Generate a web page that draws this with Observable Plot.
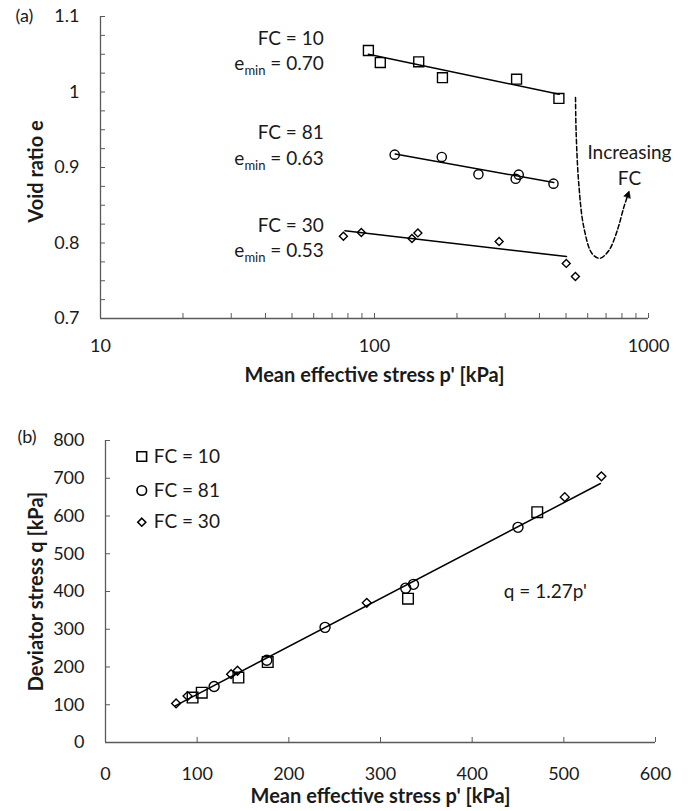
<!DOCTYPE html>
<html><head><meta charset="utf-8">
<script src="https://cdn.jsdelivr.net/npm/d3@7"></script>
<script src="https://cdn.jsdelivr.net/npm/@observablehq/plot@0.6"></script>
<style>
body{margin:0;background:#fff;}
#chart{width:688px;}
#chart svg{display:block;}
</style></head><body><div id="chart"></div>
<script>
// ---------- data ----------
const series = ["FC = 10", "FC = 81", "FC = 30"];
const eminText = ["0.70", "0.63", "0.53"];
// mean effective stress p' [kPa]
const pFC10 = [95, 105, 145, 177, 330, 471];
const pFC81 = [118.5, 176, 239.5, 336, 327.5, 450];
const pFC30 = [77, 89.5, 137, 144, 285, 501, 541];
// void ratio e (panel a)
const eFC10 = [1.055, 1.039, 1.040, 1.019, 1.017, 0.9915];
const eFC81 = [0.917, 0.914, 0.891, 0.8905, 0.885, 0.8786];
const eFC30 = [0.809, 0.814, 0.806, 0.8134, 0.802, 0.773, 0.7556];
// deviator stress q [kPa] (panel b)
const qFC10 = [119, 132, 172, 213, 381, 610];
const qFC81 = [148.5, 218, 305, 419, 409, 570];
const qFC30 = [103.5, 123, 181, 190, 370, 650, 705];
// trend lines (panel a), end points
const fitP10 = [95, 472],  fitE10 = [1.050, 0.997];
const fitP81 = [119, 451], fitE81 = [0.918, 0.880];
const fitP30 = [78, 502],  fitE30 = [0.8162, 0.782];
// critical state line (panel b)
const cslP = [76, 540], cslQ = [97, 686];
const cslLabel = "q = 1.27p'";
// dashed "Increasing FC" arrow
const arrP = [541.5, 544.6, 556.6, 580.7, 623, 664.3, 716.6, 768.9, 812.6, 843.1];
const arrE = [0.9928, 0.9444, 0.8783, 0.8208, 0.7857, 0.7798, 0.79, 0.8165, 0.8473, 0.865];
// ticks
const xMajorA = [10, 100, 1000];
const xMinorA = [10,20,30,40,50,60,70,80,90,100,200,300,400,500,600,700,800,900,1000];
const yMajorA = [0.7, 0.8, 0.9, 1, 1.1];
const yMinorA = [0.7,0.725,0.75,0.775,0.8,0.825,0.85,0.875,0.9,0.925,0.95,0.975,1,1.025,1.05,1.075,1.1];
const xTicksB = [0, 100, 200, 300, 400, 500, 600];
const yTicksB = [0, 100, 200, 300, 400, 500, 600, 700, 800];

// ---------- helpers ----------
const zip = (xs, ys, kx, ky) => xs.map((v, i) => ({[kx]: v, [ky]: ys[i]}));
const FONT = "Lato, 'Open Sans', sans-serif";
const AX = "#5a5a5a";
const INK = "#1a1a1a";
const sym = ["square", "circle", "diamond2"];
const TICKFS = 18, ANNFS = 19, TITLEFS = 20;

// ---------- panel (a) ----------
const dA = [zip(pFC10, eFC10, "p", "e"), zip(pFC81, eFC81, "p", "e"), zip(pFC30, eFC30, "p", "e")];
const fitsA = [zip(fitP10, fitE10, "p", "e"), zip(fitP81, fitE81, "p", "e"), zip(fitP30, fitE30, "p", "e")];
const rA = [5.6, 4.6, 3.6];
const annY1 = [1.070, 0.9452, 0.823];
const annY2 = [1.037, 0.9113, 0.790];

const plotA = Plot.plot({
  width: 688, height: 400,
  marginTop: 16, marginBottom: 82, marginLeft: 100, marginRight: 40,
  style: {fontFamily: FONT, fontSize: TICKFS + "px", color: INK, background: "white", overflow: "visible"},
  x: {type: "log", domain: [10, 1000]},
  y: {domain: [0.7, 1.1]},
  marks: [
    Plot.axisX(xMinorA, {tickSize: -5, tickFormat: () => "", label: null, stroke: AX}),
    Plot.axisX(xMajorA, {tickSize: 0, tickPadding: 21, tickFormat: d => String(d), label: null, fontSize: TICKFS}),
    Plot.axisY(yMinorA, {tickSize: -5, tickFormat: () => "", label: null, stroke: AX}),
    Plot.axisY(yMajorA, {tickSize: 0, tickPadding: 21, tickFormat: d => String(d), label: null, fontSize: TICKFS}),
    Plot.ruleX([10], {stroke: AX, strokeWidth: 1.3}),
    Plot.ruleY([0.7], {stroke: AX, strokeWidth: 1.3}),
    ...fitsA.map(f => Plot.line(f, {x: "p", y: "e", stroke: "black", strokeWidth: 1.5})),
    ...dA.map((d, i) => Plot.dot(d, {x: "p", y: "e", symbol: sym[i], r: rA[i], stroke: "black", strokeWidth: 1.4, fill: "none"})),
    Plot.line(zip(arrP, arrE, "p", "e"), {x: "p", y: "e", curve: "catmull-rom", stroke: "black", strokeWidth: 1.5, strokeDasharray: "4.5,2.5", markerEnd: "arrow"}),
    Plot.text(series, {x: () => 65.3, y: (d, i) => annY1[i], text: d => d, textAnchor: "end", fontSize: ANNFS}),
    Plot.text(eminText, {x: () => 65.3, y: (d, i) => annY2[i], text: d => "e_min = " + d, textAnchor: "end", fontSize: ANNFS}),
    Plot.text(["Increasing\nFC"], {x: () => 852, y: () => 0.9053, text: d => d, fontSize: ANNFS, lineHeight: 1.36}),
    Plot.text(["Mean effective stress p' [kPa]"], {frameAnchor: "bottom", dy: 57, textAnchor: "middle", lineAnchor: "middle", text: d => d, fontWeight: "bold", fontSize: TITLEFS}),
    Plot.text(["Void ratio e"], {frameAnchor: "left", dx: -64, dy: 4, rotate: -90, textAnchor: "middle", lineAnchor: "middle", text: d => d, fontWeight: "bold", fontSize: TITLEFS}),
    Plot.text(["(a)"], {frameAnchor: "top-left", dx: -85, textAnchor: "start", lineAnchor: "middle", text: d => d, fontSize: TICKFS})
  ]
});

// ---------- panel (b) ----------
const dB = [zip(pFC10, qFC10, "p", "q"), zip(pFC81, qFC81, "p", "q"), zip(pFC30, qFC30, "p", "q")];
const rB = [6, 5, 4];
const legDy = [16, 50, 81.7];

const plotB = Plot.plot({
  width: 688, height: 411,
  marginTop: 40, marginBottom: 69, marginLeft: 105, marginRight: 33,
  style: {fontFamily: FONT, fontSize: TICKFS + "px", color: INK, background: "white", overflow: "visible"},
  x: {domain: [0, 600]},
  y: {domain: [0, 800]},
  marks: [
    Plot.axisX(xTicksB, {tickSize: -5, tickFormat: () => "", label: null, stroke: AX}),
    Plot.axisX(xTicksB, {tickSize: 0, tickPadding: 25, tickFormat: d => String(d), label: null, fontSize: TICKFS}),
    Plot.axisY(yTicksB, {tickSize: -5, tickFormat: () => "", label: null, stroke: AX}),
    Plot.axisY(yTicksB, {tickSize: 0, tickPadding: 21, tickFormat: d => String(d), label: null, fontSize: TICKFS}),
    Plot.ruleX([0], {stroke: AX, strokeWidth: 1.3}),
    Plot.ruleY([0], {stroke: AX, strokeWidth: 1.3}),
    Plot.line(zip(cslP, cslQ, "p", "q"), {x: "p", y: "q", stroke: "black", strokeWidth: 1.5}),
    ...dB.map((d, i) => Plot.dot(d, {x: "p", y: "q", symbol: sym[i], r: rB[i], stroke: "black", strokeWidth: 1.4, fill: "none"})),
    ...series.map((s, i) => Plot.dot([s], {frameAnchor: "top-left", dx: 36.3, dy: legDy[i], symbol: sym[i], r: [5.4, 4.8, 3.6][i], stroke: "black", strokeWidth: 1.6, fill: "none"})),
    ...series.map((s, i) => Plot.text([s], {frameAnchor: "top-left", dx: 48.3, dy: legDy[i], textAnchor: "start", lineAnchor: "middle", text: d => d, fontSize: ANNFS})),
    Plot.text([cslLabel], {x: () => 434.5, y: () => 400, textAnchor: "start", text: d => d, fontSize: ANNFS}),
    Plot.text(["Mean effective stress p' [kPa]"], {frameAnchor: "bottom", dy: 54, textAnchor: "middle", lineAnchor: "middle", text: d => d, fontWeight: "bold", fontSize: TITLEFS}),
    Plot.text(["Deviator stress q [kPa]"], {frameAnchor: "left", dx: -69, rotate: -90, textAnchor: "middle", lineAnchor: "middle", text: d => d, fontWeight: "bold", fontSize: TITLEFS}),
    Plot.text(["(b)"], {frameAnchor: "top-left", dx: -88, dy: -3, textAnchor: "start", lineAnchor: "middle", text: d => d, fontSize: TICKFS})
  ]
});

// ---------- post-processing: subscripts and filled arrow head ----------
const NS = "http://www.w3.org/2000/svg";
plotA.querySelectorAll("text").forEach(t => {
  const s = t.textContent;
  if (s.startsWith("e_min")) {
    const rest = s.slice(5);
    while (t.firstChild) t.removeChild(t.firstChild);
    const a = document.createElementNS(NS, "tspan"); a.textContent = "e";
    const b = document.createElementNS(NS, "tspan"); b.textContent = "min";
    b.setAttribute("font-size", "13"); b.setAttribute("dy", "5");
    const c = document.createElementNS(NS, "tspan"); c.textContent = rest; c.setAttribute("dy", "-5");
    t.appendChild(a); t.appendChild(b); t.appendChild(c);
  }
});
plotA.querySelectorAll("marker").forEach(m => {
  m.setAttribute("fill", "black");
  m.setAttribute("stroke-dasharray", "none");
  m.setAttribute("stroke-width", "0.6");
  const p = m.querySelector("path");
  if (p) { p.setAttribute("d", "M-3.2,-3.3L3,0L-3.2,3.3Z"); p.setAttribute("stroke-dasharray", "none"); }
});

const host = document.getElementById("chart");
host.appendChild(plotA);
host.appendChild(plotB);
</script>
</body></html>
